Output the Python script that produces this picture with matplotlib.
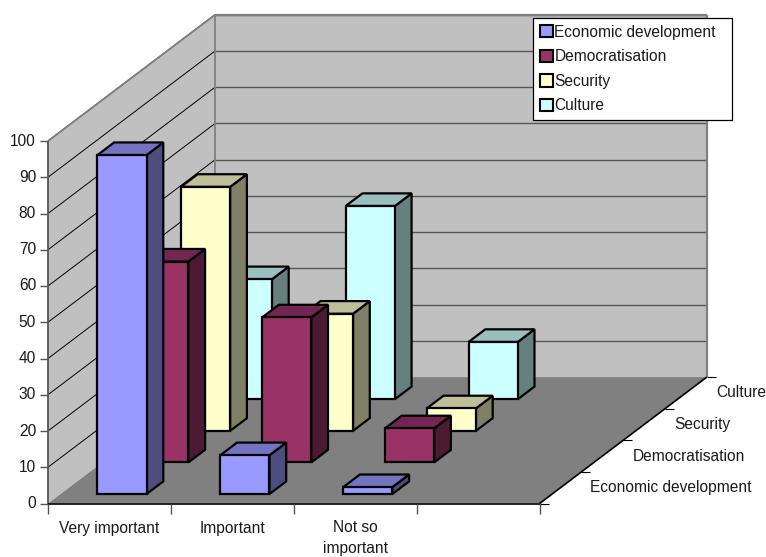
import matplotlib
matplotlib.use("Agg")
import matplotlib.pyplot as plt
from matplotlib.patches import Polygon, Patch

plt.rcParams['font.family'] = ['Liberation Sans', 'DejaVu Sans']

categories = ["Very important", "Important", "Not so\nimportant", ""]
series = ["Economic development", "Democratisation", "Security", "Culture"]
economic = [93.5, 10.7, 1.9, 0]
democratisation = [55.4, 40.0, 9.4, 0]
security = [67.3, 32.3, 6.2, 0]
culture = [33.1, 53.3, 15.8, 0]
values = [economic, democratisation, security, culture]
yticks = list(range(0, 101, 10))

front = ['#9999FF', '#993366', '#FFFFCC', '#CCFFFF']
side = ['#4D4D80', '#4D1A33', '#808066', '#668080']
top = ['#7373BF', '#732651', '#BFBF99', '#99BFBF']

X0, Y0 = 48.0, 503.5
CW, VS, DX, DY = 122.9, 3.625, 41.8, 31.6
FS = 11.2


def P(x, v, d):
    """oblique projection: category x, value v, depth d -> pixel"""
    return (X0 + CW * x + DX * d, Y0 - VS * v - DY * d)


fig = plt.figure(figsize=(7.66, 5.57), dpi=100)
ax = fig.add_axes([0, 0, 1, 1])
ax.set_xlim(0, 766)
ax.set_ylim(557, 0)
ax.axis('off')

nc, nd, vmax = len(categories), len(series), yticks[-1]


def poly(pts, fc, ec='none', lw=0, z=1):
    ax.add_patch(Polygon(pts, closed=True, fc=fc, ec=ec, lw=lw, zorder=z, joinstyle='miter'))


def line(a, b, c='black', lw=0.7, z=2):
    ax.plot([a[0], b[0]], [a[1], b[1]], color=c, lw=lw, zorder=z, solid_capstyle='butt')


# walls and floor
poly([P(0, 0, 0), P(0, vmax, 0), P(0, vmax, nd), P(0, 0, nd)], '#C0C0C0')
poly([P(0, 0, nd), P(0, vmax, nd), P(nc, vmax, nd), P(nc, 0, nd)], '#C0C0C0')
poly([P(0, 0, 0), P(0, 0, nd), P(nc, 0, nd), P(nc, 0, 0)], '#808080')

for v in yticks:
    if v > 0:
        line(P(0, v, 0), P(0, v, nd), 'black', 0.7)
        line(P(0, v, nd), P(nc, v, nd), '#555555', 1.0)
    a = P(0, v, 0)
    line((a[0] - 8, a[1]), a, '#555555', 1.0)
    ax.text(a[0] - 12, a[1], str(v), ha='right', va='center', fontsize=FS, color='#1a1a1a')

# wall outlines
line(P(0, 0, nd), P(0, vmax, nd), '#808080', 1.3)
line(P(0, vmax, 0), P(0, vmax, nd), '#808080', 1.3)
line(P(0, vmax, nd), P(nc, vmax, nd), '#808080', 1.6)
line(P(nc, vmax, nd), P(nc, 0, nd), '#808080', 1.6)
line(P(0, 0, 0), P(0, vmax, 0), '#555555', 1.3)

# bars, painted from back to front
for d in reversed(range(nd)):
    for c in range(nc):
        v = values[d][c]
        if v <= 0:
            continue
        x0, x1, d0, d1 = c + 0.3, c + 0.7, d + 0.3, d + 0.7
        kw = dict(ec='black', lw=1.6, z=5)
        poly([P(x1, 0, d0), P(x1, v, d0), P(x1, v, d1), P(x1, 0, d1)], side[d], **kw)
        poly([P(x0, v, d0), P(x0, v, d1), P(x1, v, d1), P(x1, v, d0)], top[d], **kw)
        poly([P(x0, 0, d0), P(x0, v, d0), P(x1, v, d0), P(x1, 0, d0)], front[d], **kw)

# axes
line(P(0, 0, 0), P(nc, 0, 0), 'black', 1.2, 6)
line(P(nc, 0, 0), P(nc, 0, nd), 'black', 1.2, 6)
for c in range(nc + 1):
    a = P(c, 0, 0)
    line(a, (a[0], a[1] + 10), '#555555', 1.0, 6)
    if c < nc and categories[c]:
        ax.text(a[0] + CW / 2, a[1] + 17, categories[c], ha='center', va='top',
                fontsize=FS, color='#1a1a1a', linespacing=1.5)
for d in range(nd + 1):
    a = P(nc, 0, d)
    line(a, (a[0] + 9, a[1]), 'black', 0.8, 6)
    if d < nd:
        m = P(nc, 0, d + 0.5)
        ax.text(m[0] + 30, m[1], series[d], ha='left', va='center', fontsize=FS, color='#1a1a1a')

handles = [Patch(fc=f, ec='black', lw=1.5) for f in front]
leg = ax.legend(handles, series, loc='upper left',
                bbox_to_anchor=(533 / 766, 1 - 18 / 557, 199 / 766, 0),
                bbox_transform=fig.transFigure, mode='expand', borderaxespad=0, fontsize=FS,
                fancybox=False, framealpha=1, edgecolor='black', handlelength=0.85,
                handleheight=0.85, handletextpad=0.1, labelspacing=0.62, borderpad=0.42,
                labelcolor='#1a1a1a')
leg.get_frame().set_linewidth(0.9)
leg.set_zorder(10)

fig.savefig("out.png", dpi=100)
